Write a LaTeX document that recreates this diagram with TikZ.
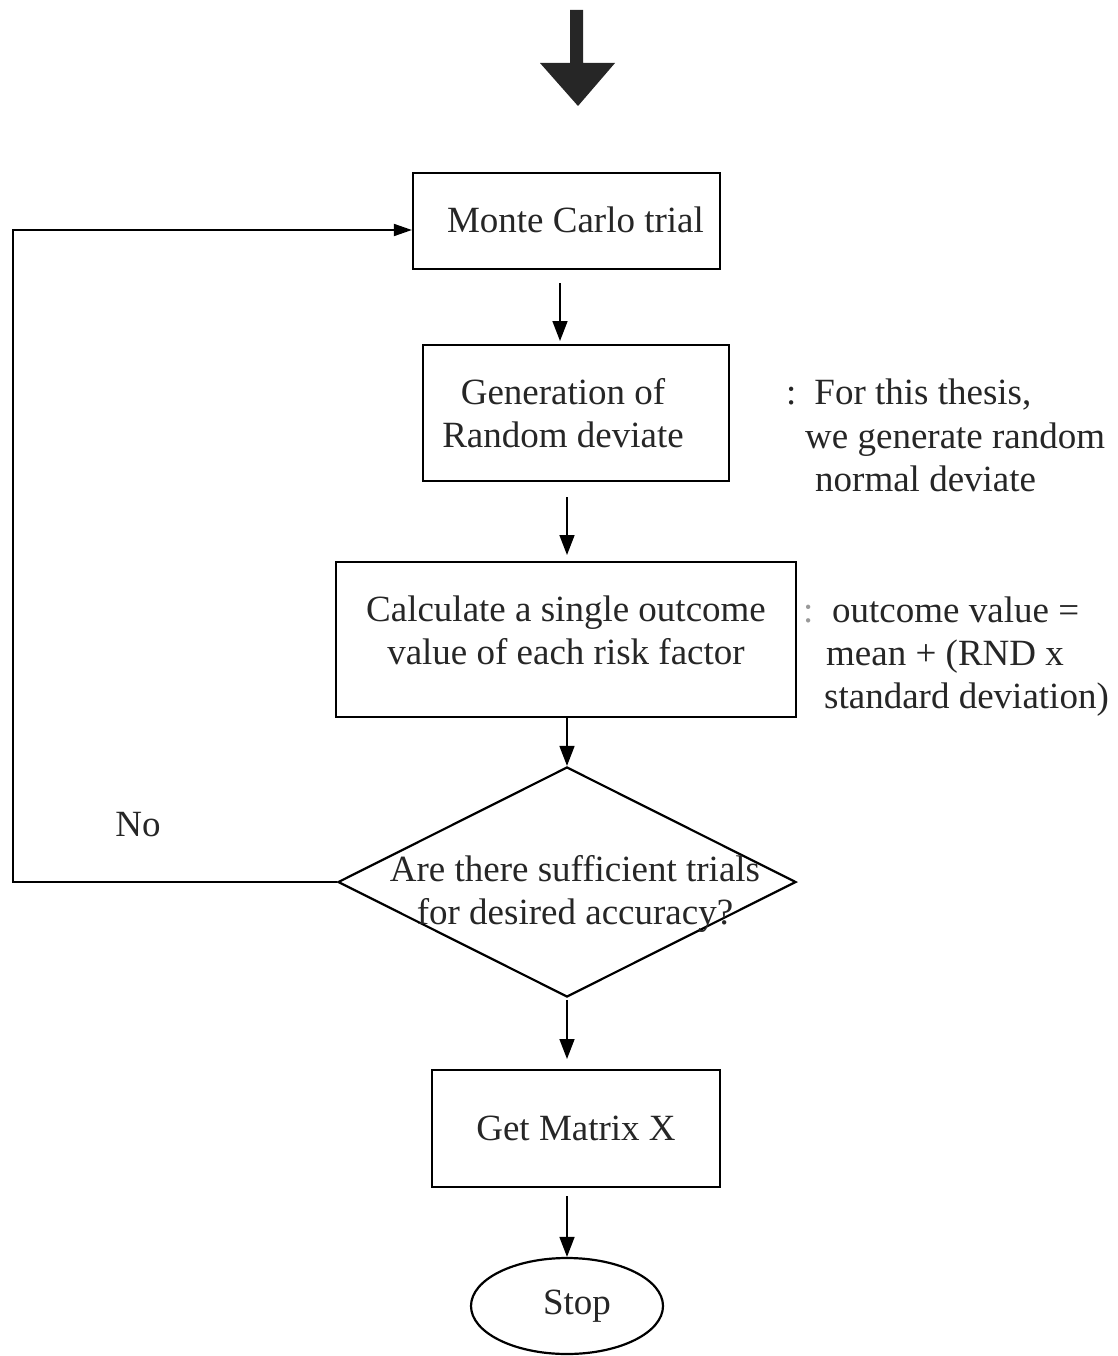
\documentclass[tikz,border=0pt]{standalone}
\usepackage{fontspec}
\setmainfont{Liberation Serif}
\usetikzlibrary{arrows.meta,shapes.geometric}
\begin{document}
\begin{tikzpicture}[x=1pt,y=-1pt,
  every node/.style={font=\fontsize{37}{43}\selectfont, text=black!85},
  box/.style={draw, line width=2.2pt, inner sep=0pt, align=center},
  arr/.style={line width=1.6pt, -{Triangle[length=20pt,width=15pt]}},
  ann/.style={anchor=base west, inner sep=0pt}]
\useasboundingbox (0,0) rectangle (1117,1356);
% big top arrow
\fill[black!85] (570,10) -- (583,10) -- (583,63) -- (615,63) -- (578,106) -- (540,63) -- (570,63) -- cycle;
% boxes
\node[box, minimum width=307pt, minimum height=96pt] (mc) at (566.5,221) {\hspace*{18pt}Monte Carlo trial\\[-40pt]\mbox{}};
\node[box, minimum width=306pt, minimum height=136pt] (gen) at (576,413) {Generation of\hspace*{26pt}\\Random deviate\hspace*{26pt}};
\node[box, minimum width=460pt, minimum height=155pt] (calc) at (566,639.5) {Calculate a single outcome\\value of each risk factor\\[-24pt]\mbox{}};
\node[diamond, draw, line width=2.2pt, minimum width=458pt, minimum height=230pt, inner sep=0pt] (dec) at (567,882) {};
\node[inner sep=0pt, align=center] (dect) at (575,894) {Are there sufficient trials\\for desired accuracy?};
\node[box, minimum width=288pt, minimum height=117pt] (mat) at (576,1128.5) {Get Matrix X};
\node[ellipse, draw, line width=2.2pt, minimum width=192pt, minimum height=96pt, inner sep=0pt] (stop) at (567,1306) {\hspace*{20pt}Stop};
% connectors
\draw[arr] (560,283) coordinate (a1s) -- (560,341) coordinate (a1e);
\draw[arr] (567,497) coordinate (a2s) -- (567,555) coordinate (a2e);
\draw[arr] (calc.south -| dec.north) -- (dec.north);
\draw[arr] (567,1000) coordinate (a4s) -- (567,1059) coordinate (a4e);
\draw[arr] (567,1196) coordinate (a5s) -- (stop.north);
\coordinate (lp1) at (13,882);
\coordinate (lp2) at (13,230);
\draw[line width=1.8pt, -{Triangle[length=18pt,width=12pt]}] (dec.west) -- (lp1) -- (lp2) -- (lp2 -| mc.west);
\node[inner sep=0pt] (no) at (138,825) {No};
% annotations
\node[ann] (n1a) at (786,404) {:\hspace{18pt}For this thesis,};
\node[ann] (n1b) at (805,448) {we generate random};
\node[ann] (n1c) at (815,491) {normal deviate};
\node[ann, text=black!40] (n2c) at (803,622) {:};
\node[ann] (n2a) at (832,622) {outcome value =};
\node[ann] (n2b) at (826,665) {mean + (RND x};
\node[ann] (n2d) at (824,708) {standard deviation)};
\end{tikzpicture}
\end{document}
